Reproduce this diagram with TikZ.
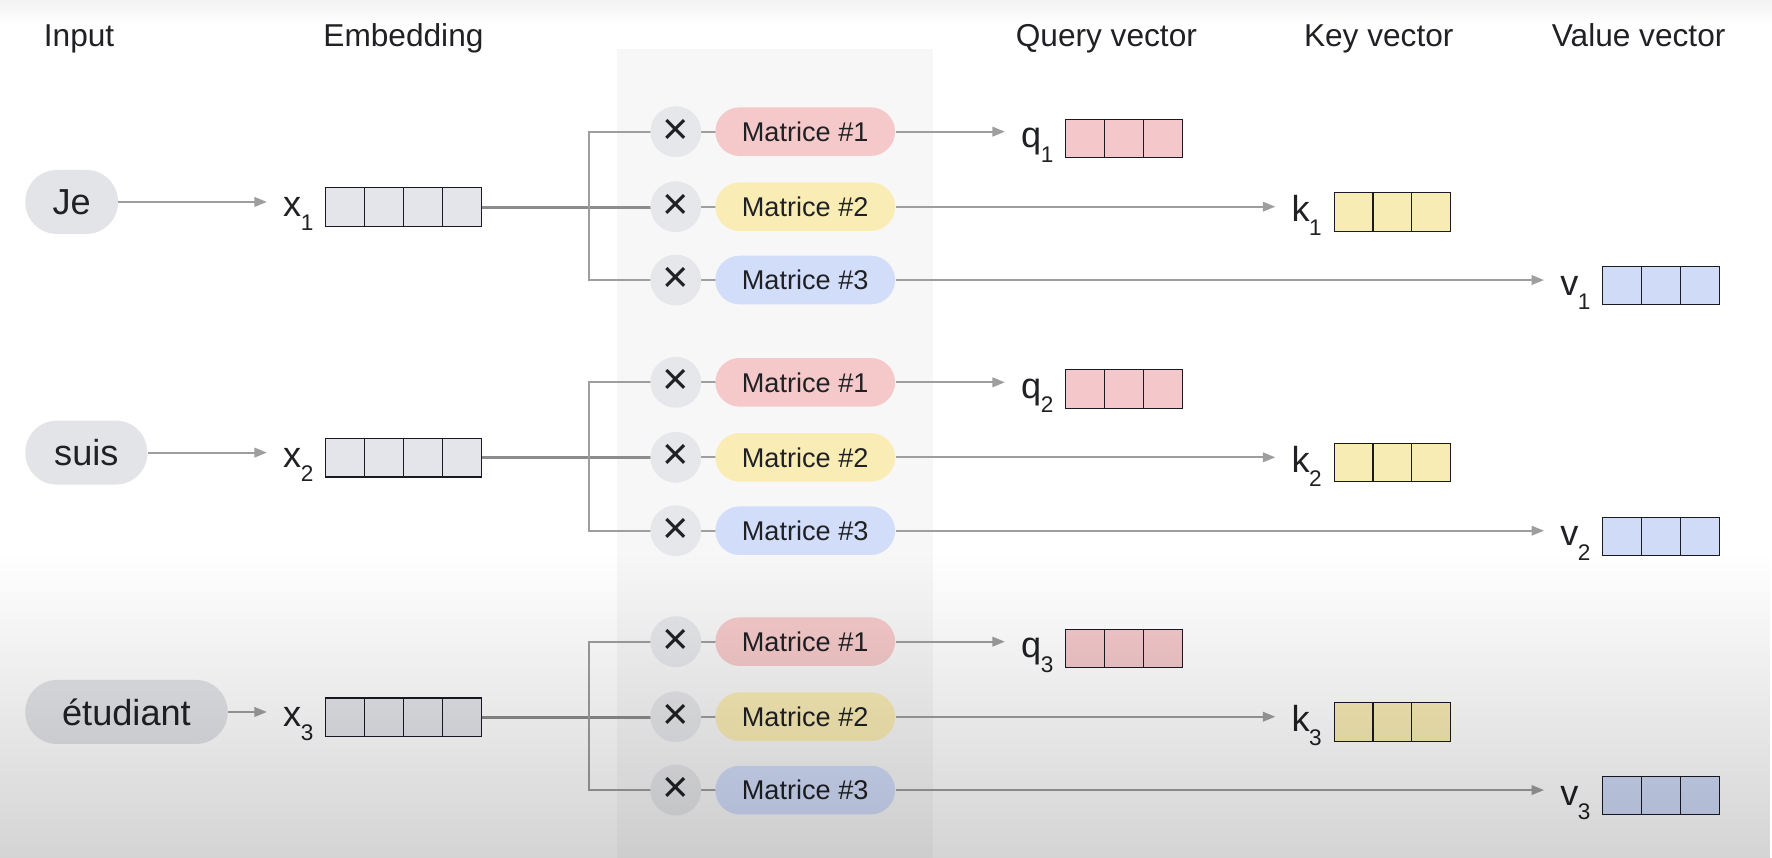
\documentclass[tikz,border=0pt]{standalone}
\usepackage{fontspec}
\setmainfont{Liberation Sans}
\usetikzlibrary{calc,fadings,arrows.meta}
\pgfdeclarelayer{bg}
\pgfdeclarelayer{lines}
\pgfsetlayers{bg,lines,main}
\definecolor{txt}{HTML}{202124}
\definecolor{pillgray}{HTML}{E3E4E8}
\definecolor{timesgray}{HTML}{E6E7EA}
\definecolor{mred}{HTML}{F5C9C9}
\definecolor{myel}{HTML}{F9EDB5}
\definecolor{mblue}{HTML}{D2DDFA}
\definecolor{cellgray}{HTML}{E4E5EA}
\definecolor{vred}{HTML}{F4C8CA}
\definecolor{vyel}{HTML}{F8ECB5}
\definecolor{vblue}{HTML}{D0DBF8}
\definecolor{cellline}{HTML}{1A1A24}
\definecolor{linegray}{HTML}{9E9E9E}
\definecolor{feedgray}{HTML}{8C8C8C}
\definecolor{bandgray}{HTML}{F7F7F8}
\tikzfading[name=fadebot, top color=transparent!100, bottom color=transparent!0]
\newcommand\veclab[2]{\fontsize{16}{18}\selectfont #1\kern-0.2pt\raisebox{-6.25pt}{\fontsize{10}{12}\selectfont #2}}
\newcommand\timesmark{\raisebox{-2pt}{×}}
\tikzset{
  hdr/.style={font=\fontsize{14}{16}\selectfont, text=txt, anchor=base, inner sep=0},
  inpill/.style={fill=pillgray, rounded corners=14pt, minimum height=28.3pt, anchor=west, inner sep=0, font=\fontsize{16}{18}\selectfont, text=txt},
  times/.style={circle, fill=timesgray, minimum size=22.5pt, inner sep=0, font=\fontsize{20}{20}\selectfont, text=txt},
  mat/.style={fill=#1, rounded corners=10.7pt, minimum width=79.5pt, minimum height=21.5pt, inner sep=0, font=\fontsize{12}{14}\selectfont, text=txt},
  vecbase/.style={draw=cellline, line width=0.5pt, minimum height=17pt, inner sep=0, anchor=west},
  vecthree/.style={vecbase, fill=#1, minimum width=51.6pt,
    path picture={\foreach \f in {1,2}{\draw[cellline, line width=0.5pt] ($(path picture bounding box.north west)!\f/3!(path picture bounding box.north east)$) -- ($(path picture bounding box.south west)!\f/3!(path picture bounding box.south east)$);}}},
  vecfour/.style={vecbase, fill=#1, minimum width=68.8pt,
    path picture={\foreach \f in {1,2,3}{\draw[cellline, line width=0.5pt] ($(path picture bounding box.north west)!\f/4!(path picture bounding box.north east)$) -- ($(path picture bounding box.south west)!\f/4!(path picture bounding box.south east)$);}}},
  lab/.style={anchor=base east, inner sep=0, text=txt},
  conn/.style={draw=linegray, line width=0.9pt},
  feed/.style={draw=feedgray, line width=1.2pt},
  arr/.style={draw=linegray, line width=0.9pt, -{Triangle[length=5.5pt, width=4.2pt]}}
}
\begin{document}
\begin{tikzpicture}[x=0.5pt, y=-0.5pt]
\useasboundingbox (0,0) rectangle (1568,759.2);
\begin{pgfonlayer}{bg}
  \fill[white] (0,0) rectangle (1568,759.2);
  \shade[top color=black!5, bottom color=white] (0,0) rectangle (1568,22);
  \fill[bandgray] (546,43) rectangle (826,759.2);
\end{pgfonlayer}

\node[hdr] (hin) at (70,41.3) {Input};
\node[hdr] (hemb) at (357,41.3) {Embedding};
\node[hdr] (hq) at (979,41.3) {Query vector};
\node[hdr] (hk) at (1220,41.3) {Key vector};
\node[hdr] (hv) at (1450,41.3) {Value vector};

\foreach \r/\D/\w/\word in {1/0/41/Je, 2/221.8/54/suis, 3/451.3/89.5/étudiant}{
  \node[inpill, minimum width=\w pt] (in\r) at (22,178.7+\D) {\word};
  \node[vecfour=cellgray] (x\r) at (287.7,183.3+\D) {};
  \node[lab] (xl\r) at ($(x\r.west)+(-10,8.5)$) {\veclab{x}{\r}};
  \node[times] (ca\r) at (598,116.5+\D) {\timesmark};
  \node[times] (cb\r) at (598,182.9+\D) {\timesmark};
  \node[times] (cc\r) at (598,247.8+\D) {\timesmark};
  \node[mat=mred] (ma\r) at (712.5,116.5+\D) {Matrice \#1};
  \node[mat=myel] (mb\r) at (712.5,182.9+\D) {Matrice \#2};
  \node[mat=mblue] (mc\r) at (712.5,247.8+\D) {Matrice \#3};
  \node[vecthree=vred] (q\r) at (942.5,122.4+\D) {};
  \node[lab] (ql\r) at ($(q\r.west)+(-10,8.5)$) {\veclab{q}{\r}};
  \node[vecthree=vyel] (k\r) at (1180,187.5+\D) {};
  \node[lab] (kl\r) at ($(k\r.west)+(-10,8.5)$) {\veclab{k}{\r}};
  \node[vecthree=vblue] (v\r) at (1417.8,252.8+\D) {};
  \node[lab] (vl\r) at ($(v\r.west)+(-10,8.5)$) {\veclab{v}{\r}};
  \coordinate (br\r) at (521,182.9+\D);
  \begin{pgfonlayer}{lines}
    \draw[feed] (x\r.east) -- (x\r.east -| cb\r.center);
    \draw[conn] (ca\r.center) -- (ca\r.center -| br\r) -- (cc\r.center -| br\r) -- (cc\r.center);
    \draw[conn] (ca\r.center) -- (ma\r.center);
    \draw[conn] (cb\r.center) -- (mb\r.center);
    \draw[conn] (cc\r.center) -- (mc\r.center);
    \draw[arr] (in\r.east) -- ($(in\r.east -| xl\r.west)+(-14,0)$);
    \draw[arr] (ma\r.east) -- ($(ma\r.east -| ql\r.west)+(-14,0)$);
    \draw[arr] (mb\r.east) -- ($(mb\r.east -| kl\r.west)+(-14,0)$);
    \draw[arr] (mc\r.east) -- ($(mc\r.east -| vl\r.west)+(-14,0)$);
  \end{pgfonlayer}
}

\fill[black, opacity=0.17, path fading=fadebot] (0,490) rectangle (1568,759.2);
\end{tikzpicture}
\end{document}
